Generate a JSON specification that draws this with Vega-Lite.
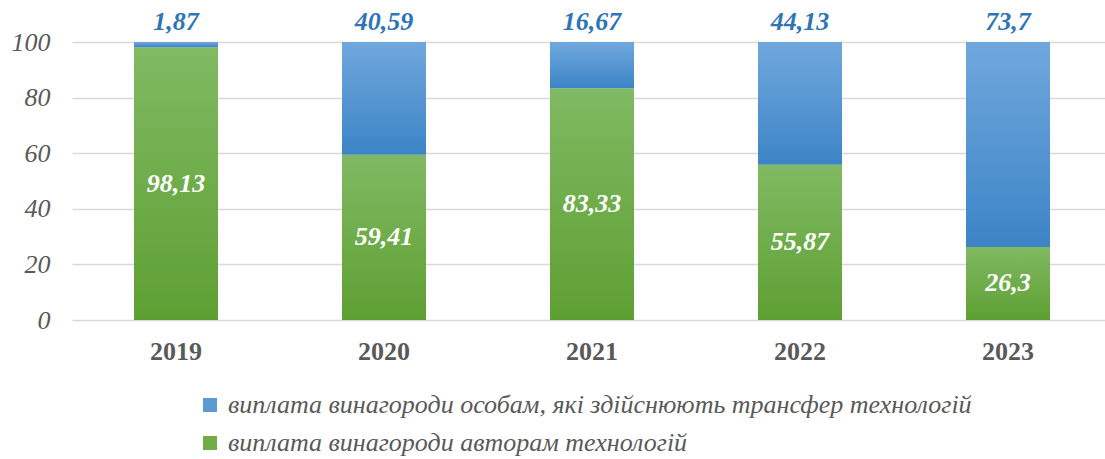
{
  "$schema": "https://vega.github.io/schema/vega-lite/v6.json",
  "autosize": "none",
  "padding": {"left": 72, "top": 42, "right": 0, "bottom": 139},
  "width": 1040,
  "height": 278,
  "background": "white",
  "config": {
    "view": {"stroke": null},
    "locale": {"number": {"decimal": ",", "thousands": " ", "grouping": [3], "currency": ["", ""]}},
    "font": "Times New Roman, Liberation Serif, serif"
  },
  "data": {
    "values": [
      {"year": "2019", "series": "виплата винагороди авторам технологій", "value": 98.13},
      {"year": "2019", "series": "виплата винагороди особам, які здійснюють трансфер технологій", "value": 1.87},
      {"year": "2020", "series": "виплата винагороди авторам технологій", "value": 59.41},
      {"year": "2020", "series": "виплата винагороди особам, які здійснюють трансфер технологій", "value": 40.59},
      {"year": "2021", "series": "виплата винагороди авторам технологій", "value": 83.33},
      {"year": "2021", "series": "виплата винагороди особам, які здійснюють трансфер технологій", "value": 16.67},
      {"year": "2022", "series": "виплата винагороди авторам технологій", "value": 55.87},
      {"year": "2022", "series": "виплата винагороди особам, які здійснюють трансфер технологій", "value": 44.13},
      {"year": "2023", "series": "виплата винагороди авторам технологій", "value": 26.3},
      {"year": "2023", "series": "виплата винагороди особам, які здійснюють трансфер технологій", "value": 73.7}
    ]
  },
  "encoding": {
    "x": {
      "field": "year",
      "type": "nominal",
      "scale": {"paddingInner": 0.596, "paddingOuter": 0.298},
      "axis": {
        "title": null,
        "labelAngle": 0,
        "labelFont": "Times New Roman, Liberation Serif, serif",
        "labelFontSize": 26,
        "labelFontWeight": "bold",
        "labelColor": "#595959",
        "labelPadding": 18,
        "ticks": false,
        "domain": false,
        "grid": false
      }
    }
  },
  "layer": [
    {
      "layer": [
        {
          "mark": {"type": "bar"},
          "encoding": {
            "y": {
              "field": "value",
              "type": "quantitative",
              "stack": "zero",
              "scale": {"domain": [0, 100]},
              "axis": {
                "title": null,
                "values": [0, 20, 40, 60, 80, 100],
                "labelFont": "Times New Roman, Liberation Serif, serif",
                "labelFontSize": 26,
                "labelFontStyle": "italic",
                "labelColor": "#595959",
                "labelPadding": 22,
                "ticks": false,
                "tickSize": 0,
                "domain": false,
                "grid": true,
                "gridColor": "#d9d9d9",
                "gridWidth": 1.5
              }
            },
            "detail": {"field": "series"},
            "order": {"field": "series", "sort": "ascending"},
            "color": {
              "condition": {
                "test": "datum.series === 'виплата винагороди авторам технологій'",
                "value": {"gradient": "linear", "x1": 0, "y1": 0, "x2": 0, "y2": 1,
                  "stops": [{"offset": 0, "color": "#80ba62"}, {"offset": 1, "color": "#5e9f33"}]}
              },
              "value": {"gradient": "linear", "x1": 0, "y1": 0, "x2": 0, "y2": 1,
                "stops": [{"offset": 0, "color": "#70a8dd"}, {"offset": 1, "color": "#3c84c6"}]}
            }
          }
        },
        {
          "transform": [{"filter": "datum.series === 'виплата винагороди особам, які здійснюють трансфер технологій'"}],
          "mark": {"type": "text", "baseline": "middle", "dy": -20, "font": "Times New Roman, Liberation Serif, serif", "fontSize": 26, "fontStyle": "italic", "fontWeight": "bold", "color": "#2e75b6"},
          "encoding": {
            "y": {"datum": 100, "type": "quantitative"},
            "text": {"field": "value", "type": "quantitative", "format": "~g"}
          }
        },
        {
          "mark": {"type": "point", "filled": true, "opacity": 0, "shape": "square"},
          "encoding": {
            "y": {"field": "value", "type": "quantitative"},
            "color": {
              "field": "series",
              "type": "nominal",
              "scale": {
                "domain": ["виплата винагороди особам, які здійснюють трансфер технологій", "виплата винагороди авторам технологій"],
                "range": ["#5b9bd5", "#70ad47"]
              },
              "legend": {
                "title": null,
                "orient": "none",
                "legendX": 125,
                "legendY": 350,
                "direction": "vertical",
                "symbolType": "square",
                "symbolSize": 196,
                "symbolOpacity": 1,
                "symbolStrokeWidth": 0,
                "labelFont": "Times New Roman, Liberation Serif, serif",
                "labelFontSize": 26,
                "labelFontStyle": "italic",
                "labelColor": "#595959",
                "labelOffset": 5,
                "labelLimit": 0,
                "rowPadding": 12
              }
            }
          }
        }
      ]
    },
    {
      "transform": [{"filter": "datum.series === 'виплата винагороди авторам технологій'"}],
      "mark": {"type": "text", "baseline": "middle", "font": "Times New Roman, Liberation Serif, serif", "fontSize": 26, "fontStyle": "italic", "fontWeight": "bold", "color": "white"},
      "encoding": {
        "y": {"field": "value", "type": "quantitative", "scale": {"domain": [0, 200]}, "axis": null},
        "text": {"field": "value", "type": "quantitative", "format": "~g"}
      }
    }
  ],
  "resolve": {"scale": {"y": "independent"}}
}
